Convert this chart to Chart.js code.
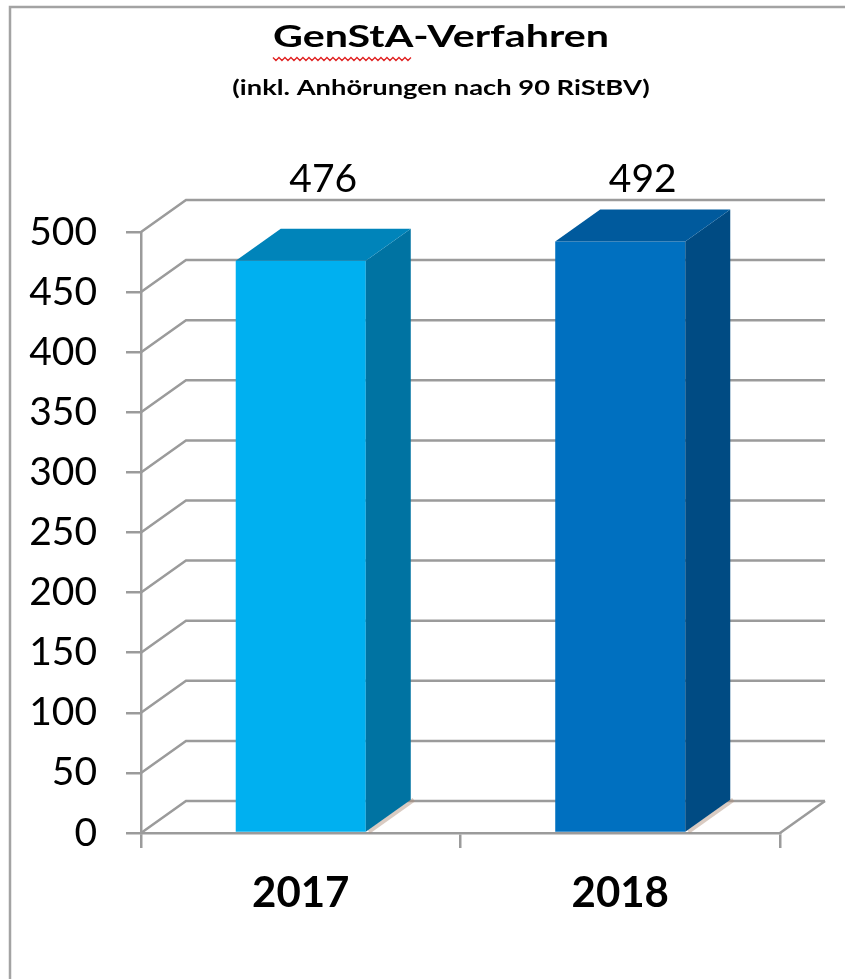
<!DOCTYPE html>
<html>
<head>
<meta charset="utf-8">
<script src="https://cdn.jsdelivr.net/npm/chart.js@4.4.0/dist/chart.umd.min.js"></script>
<style>
  html, body { margin: 0; padding: 0; background: #fff; }
  #wrap { position: relative; width: 845px; height: 979px; }
</style>
</head>
<body>
<div id="wrap"><canvas id="grafico"></canvas></div>
<script>
// dados do gráfico
const categorias = ['2017', '2018'];
const valores = [476, 492];
const titulo = 'GenStA-Verfahren';
const subtitulo = '(inkl. Anhörungen nach 90 RiStBV)';
const eixoMin = 0;
const eixoMax = 500;
const eixoPasso = 50;

// cores das faces (frente, topo, lado)
const corFrente = ['#00b0f0', '#0070c0'];
const corTopo = ['#0084ba', '#005a9d'];
const corLado = ['#0073a2', '#004b83'];
const corGrade = '#9b9b9b';
const prof = { dx: 45, dy: -32 }; // profundidade do efeito 3D

// escreve texto esticado na horizontal (o título original é mais largo)
function textoLargo(ctx, texto, x, y, fonte, esticar) {
  ctx.save();
  ctx.font = fonte;
  ctx.textAlign = 'center';
  ctx.textBaseline = 'alphabetic';
  ctx.translate(x, y);
  ctx.scale(esticar, 1);
  ctx.fillText(texto, 0, 0);
  const w = ctx.measureText(texto).width * esticar;
  ctx.restore();
  return w;
}

const efeito3d = {
  id: 'efeito3d',
  beforeDraw(chart) {
    const ctx = chart.ctx;
    ctx.save();
    // moldura (só esquerda e topo aparecem)
    ctx.strokeStyle = '#a3a3a3';
    ctx.lineWidth = 2.5;
    ctx.beginPath();
    ctx.moveTo(10, chart.height);
    ctx.lineTo(10, 7);
    ctx.lineTo(chart.width, 7);
    ctx.stroke();

    // título e subtítulo
    ctx.fillStyle = '#000';
    const centro = 441;
    const fonteTitulo = 'bold 31px Lato';
    const esticarTitulo = 1.33;
    const largura = textoLargo(ctx, titulo, centro, 47, fonteTitulo, esticarTitulo);
    textoLargo(ctx, subtitulo, centro, 95, 'bold 21px Lato', 1.3);

    // sublinhado ondulado vermelho em "GenStA"
    ctx.font = fonteTitulo;
    const larguraPalavra = ctx.measureText('GenStA').width * esticarTitulo;
    const x0 = centro - largura / 2;
    const yOnda = 59;
    ctx.strokeStyle = '#e02020';
    ctx.lineWidth = 1.3;
    ctx.beginPath();
    let sobe = true;
    for (let x = x0; x <= x0 + larguraPalavra; x += 3) {
      const yy = sobe ? yOnda - 1.5 : yOnda + 1.5;
      if (x === x0) ctx.moveTo(x, yy); else ctx.lineTo(x, yy);
      sobe = !sobe;
    }
    ctx.stroke();
    ctx.restore();
  },
  beforeDatasetsDraw(chart) {
    const ctx = chart.ctx;
    const a = chart.chartArea;
    const y = chart.scales.y;
    ctx.save();
    ctx.strokeStyle = corGrade;
    ctx.lineWidth = 2.5;
    // linhas de grade na parede do fundo
    y.ticks.forEach((t) => {
      const py = y.getPixelForValue(t.value);
      ctx.beginPath();
      ctx.moveTo(a.left, py);
      ctx.lineTo(a.left + prof.dx, py + prof.dy);
      ctx.lineTo(a.right + prof.dx, py + prof.dy);
      ctx.stroke();
    });
    // chão
    ctx.beginPath();
    ctx.moveTo(a.right, a.bottom);
    ctx.lineTo(a.right + prof.dx, a.bottom + prof.dy);
    ctx.stroke();
    ctx.restore();
  },
  afterDatasetsDraw(chart) {
    const ctx = chart.ctx;
    const y = chart.scales.y;
    const meta = chart.getDatasetMeta(0);
    ctx.save();
    meta.data.forEach((bar, i) => {
      const esq = bar.x - bar.width / 2;
      const dir = bar.x + bar.width / 2;
      const topo = bar.y;
      const base = bar.base;

      // sombra leve no chão
      ctx.strokeStyle = 'rgba(170,140,120,0.45)';
      ctx.lineWidth = 4;
      ctx.beginPath();
      ctx.moveTo(dir + 3, base);
      ctx.lineTo(dir + prof.dx + 3, base + prof.dy);
      ctx.stroke();

      // face lateral
      ctx.fillStyle = corLado[i];
      ctx.beginPath();
      ctx.moveTo(dir, topo);
      ctx.lineTo(dir + prof.dx, topo + prof.dy);
      ctx.lineTo(dir + prof.dx, base + prof.dy);
      ctx.lineTo(dir, base);
      ctx.closePath();
      ctx.fill();

      // face de cima
      ctx.fillStyle = corTopo[i];
      ctx.beginPath();
      ctx.moveTo(esq, topo);
      ctx.lineTo(esq + prof.dx, topo + prof.dy);
      ctx.lineTo(dir + prof.dx, topo + prof.dy);
      ctx.lineTo(dir, topo);
      ctx.closePath();
      ctx.fill();

      // rótulo do valor
      ctx.fillStyle = '#000';
      ctx.font = '39px Lato';
      ctx.textAlign = 'center';
      ctx.textBaseline = 'middle';
      ctx.fillText(String(valores[i]), bar.x + prof.dx / 2, y.getPixelForValue(eixoMax) + prof.dy - 21);
    });
    ctx.restore();
  }
};

const dados = {
  labels: categorias,
  datasets: [{
    label: 'GenStA-Verfahren',
    data: valores,
    backgroundColor: corFrente,
    borderWidth: 0,
    categoryPercentage: 1,
    barPercentage: 0.407
  }]
};

const config = {
  type: 'bar',
  data: dados,
  options: {
    responsive: true,
    maintainAspectRatio: false,
    animation: false,
    layout: { padding: { left: 0, right: 65, top: 232, bottom: 0 } },
    plugins: {
      legend: { display: false },
      tooltip: { enabled: false }
    },
    scales: {
      x: {
        ticks: { color: '#000', padding: 20, font: { family: 'Lato', size: 42, weight: 'bold' } },
        grid: { drawOnChartArea: false, offset: true, tickLength: 15, color: corGrade, lineWidth: 2.5 },
        border: { color: corGrade, width: 2.5 },
        afterFit(s) { s.height = 146; }
      },
      y: {
        min: eixoMin,
        max: eixoMax,
        ticks: { stepSize: eixoPasso, color: '#000', padding: 29, font: { family: 'Lato', size: 39 } },
        grid: { drawOnChartArea: false, tickLength: 15, color: corGrade, lineWidth: 2.5 },
        border: { color: corGrade, width: 2.5 },
        afterFit(s) { s.width = 141; }
      }
    }
  },
  plugins: [efeito3d]
};

const grafico = new Chart(document.getElementById('grafico'), config);
</script>
</body>
</html>
